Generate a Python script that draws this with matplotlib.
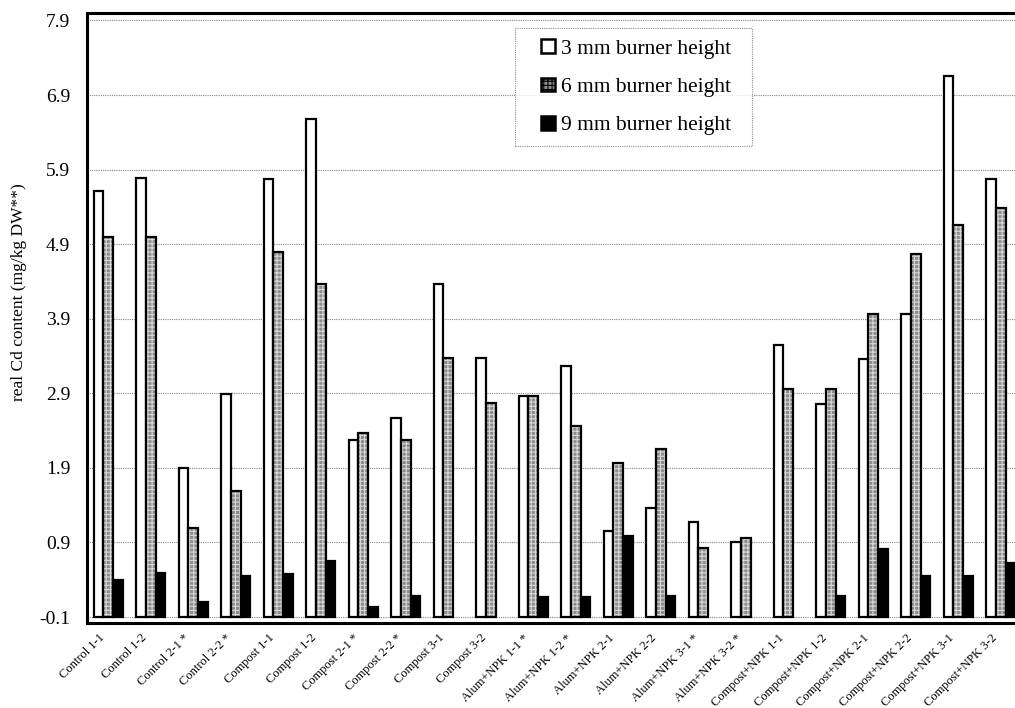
import matplotlib
matplotlib.use('Agg')
import matplotlib.pyplot as plt
import matplotlib.transforms as mtransforms
from matplotlib.patches import Patch, Rectangle
from matplotlib.legend_handler import HandlerPatch
import numpy as np

plt.rcParams['font.family'] = ['Liberation Serif', 'DejaVu Serif']
plt.rcParams['hatch.linewidth'] = 0.8

categories = ['Control 1-1', 'Control 1-2', 'Control 2-1 *', 'Control 2-2 *',
              'Compost 1-1', 'Compost 1-2', 'Compost 2-1 *', 'Compost 2-2 *',
              'Compost 3-1', 'Compost 3-2', 'Alum+NPK 1-1 *', 'Alum+NPK 1-2 *',
              'Alum+NPK 2-1', 'Alum+NPK 2-2', 'Alum+NPK 3-1 *', 'Alum+NPK 3-2 *',
              'Compost+NPK 1-1', 'Compost+NPK 1-2', 'Compost+NPK 2-1',
              'Compost+NPK 2-2', 'Compost+NPK 3-1', 'Compost+NPK 3-2']
h3 = [5.61, 5.79, 1.90, 2.89, 5.78, 6.58, 2.28, 2.57, 4.37, 3.38, 2.86, 3.26,
      1.06, 1.36, 1.17, 0.91, 3.55, 2.76, 3.36, 3.97, 7.16, 5.78]
h6 = [5.00, 5.00, 1.10, 1.59, 4.79, 4.37, 2.37, 2.28, 3.38, 2.77, 2.86, 2.46,
      1.96, 2.16, 0.82, 0.96, 2.96, 2.96, 3.97, 4.77, 5.16, 5.38]
# None = no bar drawn for that sample
h9 = [0.40, 0.49, 0.10, 0.45, 0.48, 0.65, 0.04, 0.18, None, None, 0.17, 0.17,
      0.99, 0.18, None, None, None, 0.18, 0.81, 0.45, 0.45, 0.62]
yticks = [-0.1, 0.9, 1.9, 2.9, 3.9, 4.9, 5.9, 6.9, 7.9]

base = -0.1
x = np.arange(len(categories))
w = 0.23
v9 = np.array([np.nan if v is None else v for v in h9])

fig = plt.figure(figsize=(10.15, 7.08), dpi=100)
ax = fig.add_axes([87 / 1015, 85 / 708, 935 / 1015, 610 / 708])

ax.bar(x - w, np.array(h3) - base, w, bottom=base, color='white',
       edgecolor='black', linewidth=1.6, zorder=3)
ax.bar(x, np.array(h6) - base, w, bottom=base, color='#8c8c8c',
       edgecolor='#d8d8d8', hatch='++++', linewidth=0, zorder=3)
ax.bar(x, np.array(h6) - base, w, bottom=base, fill=False,
       edgecolor='black', linewidth=1.6, zorder=4)
ax.bar(x + w, v9 - base, w, bottom=base, color='black',
       edgecolor='black', linewidth=1.6, zorder=3)

ax.set_xlim(-0.5, len(categories) - 0.5)
ax.set_ylim(-0.18, 8.0)
ax.set_yticks(yticks)
ax.set_yticklabels(['%.1f' % t for t in yticks], fontsize=14)
ax.tick_params(axis='y', length=0, pad=12)
ax.tick_params(axis='x', length=0, pad=5)
ax.set_xticks(x)
ax.set_xticklabels(categories, rotation=45, ha='right', va='top',
                   rotation_mode='anchor', fontsize=9)
shift = mtransforms.ScaledTranslation(-10 / 100, -2 / 100, fig.dpi_scale_trans)
for lab in ax.get_xticklabels():
    lab.set_transform(lab.get_transform() + shift)
ax.yaxis.grid(True, linestyle=(0, (1, 1)), color='#888888', linewidth=0.8,
              zorder=0)
ax.set_axisbelow(True)
for s in ax.spines.values():
    s.set_linewidth(2.2)
ax.set_ylabel('real Cd content (mg/kg DW**)', fontsize=12.5)
ax.yaxis.set_label_coords(-0.064, 0.543)


def square(legend, orig_handle, xdescent, ydescent, width, height, fontsize):
    s = 10
    return Rectangle((width - s - xdescent, -ydescent + (height - s) / 2), s, s)


handles = [Patch(facecolor='white', edgecolor='black', linewidth=1.8),
           Patch(facecolor='#8c8c8c', edgecolor='black', linewidth=1.8,
                 hatch='++++'),
           Patch(facecolor='black', edgecolor='black', linewidth=1.8)]
leg = ax.legend(handles, ['3 mm burner height  ', '6 mm burner height  ',
                          '9 mm burner height  '],
                handler_map={Patch: HandlerPatch(patch_func=square)},
                loc='upper left', bbox_to_anchor=(0.458, 0.975), fontsize=15.5,
                frameon=True, fancybox=False, handlelength=1.37,
                handleheight=0.7, handletextpad=0.25, labelspacing=0.84,
                borderpad=0.49, borderaxespad=0)
leg.get_frame().set_edgecolor('#777777')
leg.get_frame().set_linestyle((0, (1, 1)))
leg.get_frame().set_linewidth(0.8)

fig.savefig('out.png', dpi=100)
